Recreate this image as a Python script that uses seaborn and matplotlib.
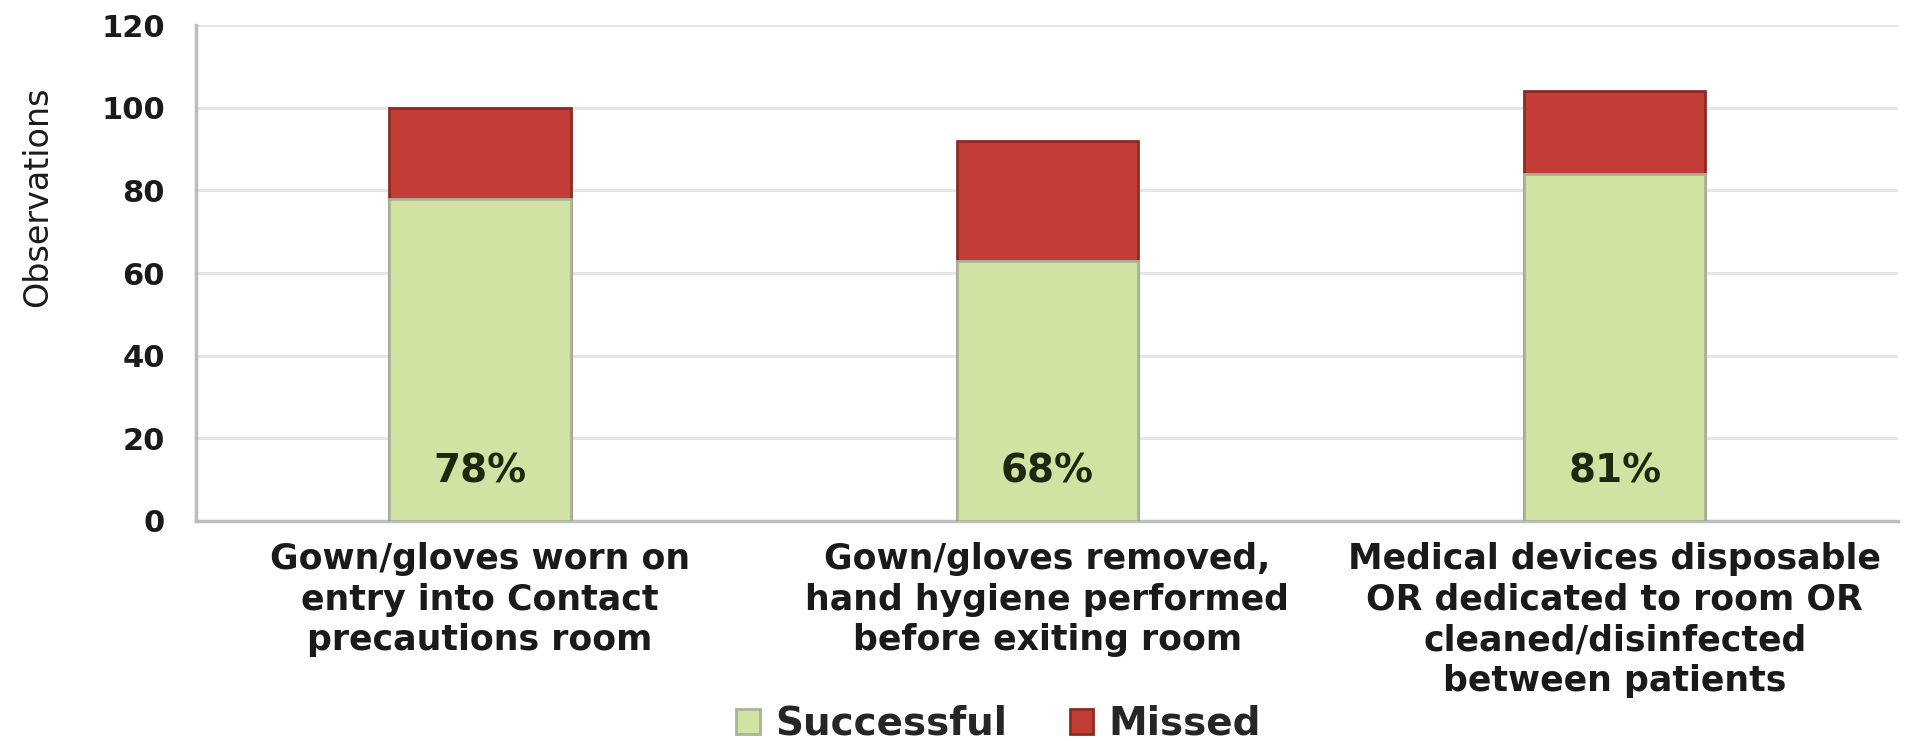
import matplotlib
matplotlib.use("Agg")
import matplotlib.pyplot as plt
import pandas as pd
import seaborn as sns

# values
categories = [
    "Gown/gloves worn on\nentry into Contact\nprecautions room",
    "Gown/gloves removed,\nhand hygiene performed\nbefore exiting room",
    "Medical devices disposable\nOR dedicated to room OR\ncleaned/disinfected\nbetween patients",
]
successful = [78, 63, 84]
missed = [22, 29, 20]
pct_labels = ["78%", "68%", "81%"]
y_ticks = [0, 20, 40, 60, 80, 100, 120]

GREEN = "#d1e3a3"
GREEN_EDGE = "#a9b49b"
RED = "#c33d37"
RED_EDGE = "#8c2b26"
GRID = "#e6e6e6"
AXIS = "#bdbdbd"
TEXT = "#1a1a1a"

df = pd.DataFrame({"category": categories, "successful": successful, "missed": missed})
df["total"] = df["successful"] + df["missed"]

sns.set_style("white")
plt.rcParams["font.family"] = ["DejaVu Sans"]

fig = plt.figure(figsize=(19.06, 7.41), dpi=100)
ax = fig.add_axes([0.103, 0.297, 0.893, 0.669])

# stacked look: totals in red, successful drawn over them
sns.barplot(data=df, x="category", y="total", color=RED, edgecolor=RED_EDGE,
            linewidth=2, width=0.32, saturation=1, label="Missed", ax=ax, zorder=3)
sns.barplot(data=df, x="category", y="successful", color=GREEN, edgecolor=GREEN_EDGE,
            linewidth=2, width=0.32, saturation=1, label="Successful", ax=ax, zorder=3)
if ax.get_legend() is not None:
    ax.get_legend().remove()

for i, text in enumerate(pct_labels):
    ax.text(i, 12, text, ha="center", va="center", fontsize=28,
            fontweight="bold", color="#1e2810", zorder=4)

ax.set_xlim(-0.5, len(categories) - 0.5)
ax.set_ylim(y_ticks[0], y_ticks[-1])
ax.set_yticks(y_ticks)
ax.yaxis.grid(True, color=GRID, linewidth=2.2)
ax.set_axisbelow(True)

for side in ("top", "right"):
    ax.spines[side].set_visible(False)
for side in ("left", "bottom"):
    ax.spines[side].set_color(AXIS)
    ax.spines[side].set_linewidth(2.5)

ax.set_xticks(range(len(categories)))
ax.set_xticklabels(categories, fontsize=25, fontweight="bold", color=TEXT, linespacing=1.25)
ax.set_xticks([i - 0.5 for i in range(len(categories) + 1)], minor=True)
ax.tick_params(axis="x", which="major", length=0, pad=15)
ax.tick_params(axis="x", which="minor", length=9.5, width=2, color=AXIS, direction="out")
ax.tick_params(axis="y", length=8.5, width=2, color=AXIS, pad=14, labelsize=22, labelcolor=TEXT)
for lbl in ax.get_yticklabels():
    lbl.set_fontweight("bold")

ax.set_xlabel("")
ax.set_ylabel("Observations", fontsize=24, color=TEXT, va="center")
ax.yaxis.set_label_coords(-0.0934, 0.653)

handles, labels = ax.get_legend_handles_labels()
order = [labels.index("Successful"), labels.index("Missed")]
fig.legend([handles[k] for k in order], [labels[k] for k in order],
           loc="center", bbox_to_anchor=(0.524, 0.023), ncol=2, frameon=False,
           prop={"size": 28, "weight": "bold"}, handlelength=0.6, handleheight=0.6,
           handletextpad=0.4, columnspacing=1.6)

fig.savefig("out.png", dpi=100)
plt.close(fig)
